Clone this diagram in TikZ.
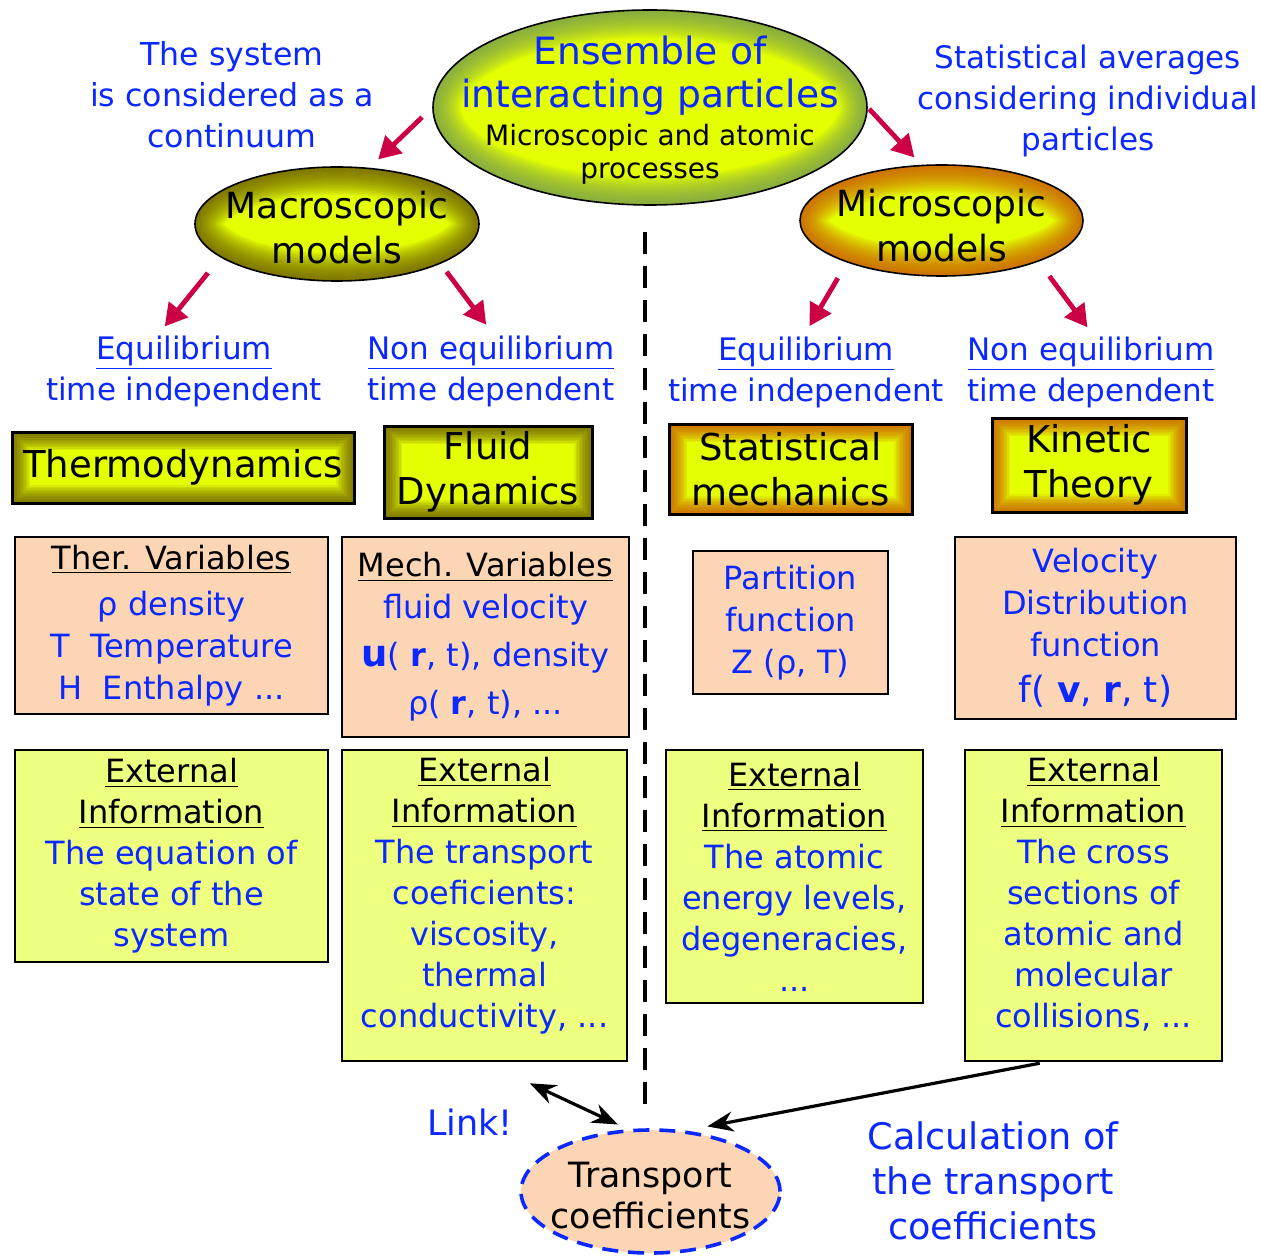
\documentclass[tikz,border=0pt]{standalone}
\usepackage{fontspec}
\setmainfont{DejaVu Sans}
\usetikzlibrary{shapes.geometric}
\usetikzlibrary{arrows.meta}
\usetikzlibrary{calc}
\definecolor{noteblue}{RGB}{10,40,255}
\definecolor{arrowred}{RGB}{204,0,68}
\definecolor{glowyellow}{RGB}{228,255,0}
\definecolor{glowgreen}{RGB}{110,150,90}
\definecolor{glowolive}{RGB}{95,75,0}
\definecolor{gloworange}{RGB}{200,70,0}
\definecolor{salmon}{RGB}{252,213,181}
\definecolor{lime}{RGB}{238,255,128}
\newcommand{\notefont}{\fontsize{15.5}{20.5}\selectfont}
\newcommand{\boxfont}{\fontsize{16}{20.5}\selectfont}
\newcommand{\titlefont}{\fontsize{18}{22.5}\selectfont}
\newcommand{\boxhead}[1]{\textcolor{black}{\underline{#1}}}
\tikzset{
  % yellow fill that darkens towards the rim
  ellipseglow/.style={fill=glowyellow, path picture={
      \foreach \w in {2,4,...,28} {\draw[#1, opacity=0.09, line width=\w pt]
        let \p1=(path picture bounding box.north east), \p2=(path picture bounding box.center)
        in (\p2) ellipse [x radius=\x1-\x2, y radius=\y1-\y2];}}},
  boxglow/.style={fill=glowyellow, path picture={
      \foreach \w in {1.5,3,...,18} {\draw[#1, opacity=0.1, line width=\w pt]
        (path picture bounding box.south west) rectangle (path picture bounding box.north east);}}}
}
\tikzstyle{model}=[draw, ellipse, line width=0.8pt, inner sep=0]
\tikzstyle{modeltext}=[inner sep=0, align=center, font=\titlefont]
\tikzstyle{theory}=[draw, line width=1.5pt, inner sep=0, align=center, font=\fontsize{18.5}{22.5}\selectfont]
\tikzstyle{variables}=[draw, fill=salmon, line width=1.1pt, inner sep=0, align=center, text=noteblue, font=\fontsize{16}{21}\selectfont]
\tikzstyle{external}=[draw, fill=lime, line width=1.1pt, inner sep=0, align=center, text=noteblue, font=\boxfont]
\tikzstyle{note}=[inner sep=2pt, align=center, text=noteblue, font=\notefont]
\tikzstyle{branch}=[draw=arrowred, line width=2.4pt, -{Triangle[length=11pt, width=12pt]}]
\tikzstyle{link}=[draw, line width=1.6pt, -{Stealth[length=13pt, width=10pt]}]
\tikzstyle{divider}=[draw, line width=1.9pt, dash pattern=on 11pt off 6pt]

\begin{document}
\begin{tikzpicture}[x=0.5pt, y=-0.5pt]
        \useasboundingbox (0, 0) rectangle (1261, 1256);
        % top of the tree
        \node[model, ellipseglow=glowgreen, minimum width=217pt, minimum height=97.5pt] (ens) at (650, 107.5) {};
        \node[modeltext, text=noteblue, font=\fontsize{18.8}{21.5}\selectfont] (enstitle) at (650, 76) {Ensemble of\\interacting particles};
        \node[modeltext, font=\fontsize{14}{16.5}\selectfont] (enssub) at (650, 154) {Microscopic and atomic\\processes};
        \node[note, font=\fontsize{15.8}{20.5}\selectfont] (sysnote) at (232, 95) {The system\\is considered as a\\continuum};
        \node[note] (avgnote) at (1088, 101) {Statistical averages\\considering individual\\particles};
        \node[model, ellipseglow=glowolive, minimum width=142pt, minimum height=57pt]    (macro) at (337, 224) {};
        \node[modeltext] (macrotext) at (337, 228) {Macroscopic\\models};
        \node[model, ellipseglow=gloworange, minimum width=141.5pt, minimum height=55.5pt] (micro) at (941.5, 220.5) {};
        \node[modeltext] (microtext) at (941.5, 226) {Microscopic\\models};
        % regimes
        \node[note] (eqL)  at (184, 371)  {\underline{Equilibrium}\\time independent};
        \node[note] (neqL) at (491, 371)  {\underline{Non equilibrium}\\time dependent};
        \node[note] (eqR)  at (806, 372)  {\underline{Equilibrium}\\time independent};
        \node[note] (neqR) at (1091, 372) {\underline{Non equilibrium}\\time dependent};
        % theories
        \node[theory, boxglow=glowolive, minimum width=171pt, minimum height=35.5pt]  (thermo) at (183, 467.5) {Thermodynamics};
        \node[theory, boxglow=glowolive, minimum width=104pt, minimum height=46pt]    (fluid)  at (488, 472)   {Fluid\\Dynamics};
        \node[theory, boxglow=gloworange, minimum width=121.5pt, minimum height=45pt] (stat)   at (790.5, 469) {Statistical\\mechanics};
        \node[theory, boxglow=gloworange, minimum width=97pt, minimum height=47pt]    (kin)    at (1089, 465)  {Kinetic\\Theory};
        % variables
        \node[variables, minimum width=156.5pt, minimum height=88.5pt] (thervar) at (171.5, 625.5) {\boxhead{Ther. Variables}\\[2pt] ρ density\\T~~Temperature\\H~~Enthalpy ...};
        \node[variables, minimum width=143.5pt, minimum height=100pt]  (mechvar) at (485.5, 637)   {\boxhead{Mech. Variables}\\fluid velocity\\[3pt] {\fontsize{18.5}{20}\selectfont\textbf{u}}( \textbf{r}, t), density\\[3pt] ρ( \textbf{r}, t), ...};
        \node[variables, minimum width=97.5pt, minimum height=71.5pt]  (partfun) at (790.5, 622.5) {Partition\\function\\Z (ρ, T)};
        \node[variables, minimum width=140.5pt, minimum height=91pt]   (veldist) at (1095.5, 628)  {Velocity\\Distribution\\function\\[2pt] {\fontsize{18}{20}\selectfont f( \textbf{v}, \textbf{r}, t)}};
        % external information
        \node[external, minimum width=156.5pt, minimum height=106pt]                   (ext1) at (171.5, 856)    {\boxhead{External}\\\boxhead{Information}\\The equation of\\state of the\\system};
        \node[external, minimum width=142.5pt, minimum height=155.5pt, text depth=13pt] (ext2) at (484.5, 905.5)  {\boxhead{External}\\\boxhead{Information}\\The transport\\coeficients:\\viscosity,\\thermal\\conductivity, ...};
        \node[external, minimum width=128.5pt, minimum height=126.5pt]                 (ext3) at (794.5, 876.5)  {\boxhead{External}\\\boxhead{Information}\\The atomic\\energy levels,\\degeneracies,\\...};
        \node[external, minimum width=128.5pt, minimum height=155.5pt, text depth=13pt] (ext4) at (1093.5, 905.5) {\boxhead{External}\\\boxhead{Information}\\The cross\\sections of\\atomic and\\molecular\\collisions, ...};
        % bottom
        \node[model, fill=salmon, draw=noteblue, line width=1.8pt, dash pattern=on 8pt off 5pt, minimum width=129.5pt, minimum height=61.5pt] (tc) at (650.5, 1191.5) {};
        \node[modeltext, font=\fontsize{17.4}{20.5}\selectfont] (tctext) at (650.5, 1196) {Transport\\coefficients};
        \node[note, font=\fontsize{17.5}{20}\selectfont] (linknote) at (470, 1122) {Link!};
        \node[note, font=\fontsize{18.3}{22.5}\selectfont] (calcnote) at (993, 1181) {Calculation of\\the transport\\coefficients};
        \coordinate (divtop) at (645, 232);
        \coordinate (divbot) at (645, 1110);
        \draw[divider] (divtop) -- (divbot);
        \draw[branch, shorten <=7pt, shorten >=6pt]   (ens.west)  -- (macro.60);
        \draw[branch, shorten <=1pt, shorten >=5pt]   (ens.east)  -- (micro.110);
        \draw[branch, shorten <=10pt, shorten >=3pt]  (macro.196) -- (eqL.120);
        \draw[branch, shorten <=5pt, shorten >=4pt]   (macro.339) -- (neqL.north);
        \draw[branch, shorten <=9pt, shorten >=3.5pt] (micro.204) -- (eqR.north);
        \draw[branch, shorten <=9pt, shorten >=3pt]   (micro.337) -- (neqR.north);
        \draw[link, {Stealth[length=13pt, width=10pt]}-{Stealth[length=13pt, width=10pt]}, shorten <=25pt, shorten >=5.5pt] (ext2.south) -- (tc.110);
        \draw[link, shorten <=3pt, shorten >=11pt] (ext4.253) -- (tc.60);
\end{tikzpicture}
\end{document}
